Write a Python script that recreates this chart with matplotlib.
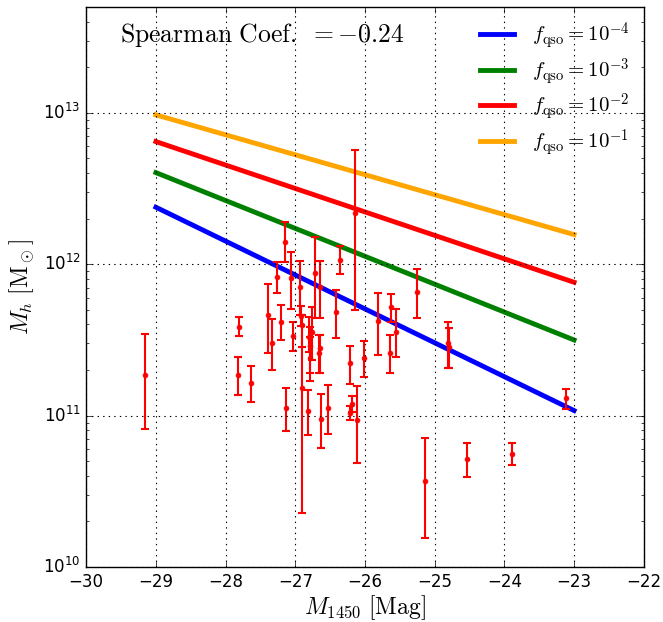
import matplotlib
matplotlib.use('Agg')
import matplotlib.pyplot as plt
import numpy as np

# quasar sample: M1450, halo mass and error bar ends (units of 1e11 Msun)
m1450 = [-29.15, -27.806, -27.816, -27.63, -27.386, -27.338, -27.257, -27.209,
         -27.147, -27.128, -27.056, -27.037, -26.937, -26.917, -26.907, -26.907,
         -26.822, -26.803, -26.795, -26.789, -26.765, -26.717, -26.645, -26.655,
         -26.64, -26.636, -26.535, -26.415, -26.358, -26.215, -26.215, -26.191,
         -26.143, -26.119, -26.009, -25.809, -25.642, -25.627, -25.555, -25.255,
         -24.814, -24.79, -25.135, -24.533, -23.897, -23.109]
mh = [1.85, 3.87, 1.85, 1.64, 4.62, 3.04, 8.2, 4.18,
      14.1, 1.12, 8.1, 3.38, 7.1, 4.58, 3.96, 1.53,
      1.07, 3.33, 2.89, 2.42, 3.59, 8.8, 7.05, 2.58,
      2.79, 0.946, 1.13, 4.84, 10.7, 2.21, 1.04, 1.19,
      21.9, 0.936, 2.4, 4.22, 2.61, 5.2, 3.59, 6.59,
      3.04, 2.86, 0.37, 0.52, 0.56, 1.30]
mh_hi = [3.44, 4.45, 2.44, 2.12, 7.45, 4.33, 10.3, 5.35,
         19.1, 1.53, 12.0, 4.14, 10.5, 5.3, 4.6, 4.6,
         1.48, 4.45, 3.87, 3.33, 5.25, 15.2, 10.5, 3.41,
         3.41, 1.38, 1.6, 6.76, 13.1, 2.9, 1.15, 1.34,
         57.0, 1.57, 3.1, 6.43, 3.41, 6.34, 5.05, 9.27,
         4.16, 3.81, 0.71, 0.66, 0.656, 1.50]
mh_lo = [0.82, 3.34, 1.36, 1.23, 2.60, 2.01, 6.46, 3.15,
         10.3, 0.79, 5.1, 2.67, 4.6, 3.9, 2.85, 0.229,
         0.74, 2.65, 1.91, 1.69, 2.33, 4.4, 4.4, 1.91,
         1.91, 0.61, 0.76, 3.27, 8.6, 1.63, 0.93, 1.05,
         4.99, 0.49, 1.8, 2.53, 1.92, 4.16, 2.43, 4.44,
         2.07, 2.06, 0.156, 0.396, 0.47, 1.11]

# model relations for different duty cycles (end points)
model_mag = [-29, -23]
f_qso_labels = [r'$f_{\rm qso}=10^{-4}$', r'$f_{\rm qso}=10^{-3}$',
                r'$f_{\rm qso}=10^{-2}$', r'$f_{\rm qso}=10^{-1}$']
model_mh = [[2.38e12, 1.08e11],
            [4.03e12, 3.16e11],
            [6.46e12, 7.6e11],
            [9.7e12, 1.57e12]]
model_colors = ['blue', 'green', 'red', 'orange']

spearman = -0.24

plt.style.use('classic')
fig = plt.figure(figsize=(6.63, 6.22), dpi=100, facecolor='white')
ax = fig.add_axes([0.130, 0.0884, 0.841, 0.9003])

for vals, lab, col in zip(model_mh, f_qso_labels, model_colors):
    ax.plot(model_mag, vals, color=col, lw=3.5, label=lab)

mh = np.array(mh) * 1e11
yerr = [mh - np.array(mh_lo) * 1e11, np.array(mh_hi) * 1e11 - mh]
ax.errorbar(m1450, mh, yerr=yerr, fmt='o', color='red', ecolor='red',
            ms=3.5, mec='red', elinewidth=1.5, capsize=3, capthick=1.5)

ax.set_yscale('log')
ax.set_xlim(-30, -22)
ax.set_ylim(1e10, 5e13)
ax.grid(True, linestyle=':', color='k', lw=0.8)

ax.set_xlabel(r'$M_{1450}\ [\rm Mag]$', fontsize=17, math_fontfamily='cm',
              labelpad=2)
ax.set_ylabel(r'$M_h\ [\rm M_\odot]$', fontsize=17, math_fontfamily='cm')

ax.text(0.06, 0.95, r'$\rm Spearman\ Coef.\ = %.2f$' % spearman,
        transform=ax.transAxes, fontsize=18.5, va='center', ha='left',
        math_fontfamily='cm')

leg = ax.legend(loc='upper right', frameon=False, fontsize=15, numpoints=1,
                handlelength=1.6, handletextpad=0.9, labelspacing=0.22,
                borderaxespad=0.25)
for t in leg.get_texts():
    t.set_math_fontfamily('cm')

fig.savefig('out.png', dpi=100, facecolor='white')
